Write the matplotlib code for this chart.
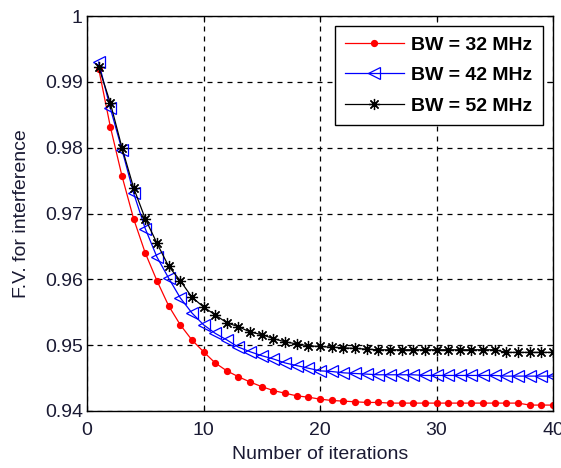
import matplotlib
matplotlib.use('Agg')
import matplotlib.pyplot as plt
import numpy as np

# 數據
iterations = np.arange(1, 41)
fv_32 = [0.9920, 0.9832, 0.9757, 0.9692, 0.9640, 0.9598, 0.9560, 0.9531, 0.9508, 0.9490,
         0.9473, 0.9461, 0.9452, 0.9444, 0.9437, 0.9431, 0.9427, 0.9423, 0.9421, 0.9418,
         0.9416, 0.9415, 0.9414, 0.9413, 0.9413, 0.9412, 0.9412, 0.9412, 0.9412, 0.9412,
         0.9412, 0.9412, 0.9412, 0.9412, 0.9412, 0.9412, 0.9412, 0.9409, 0.9409, 0.9409]
fv_42 = [0.9930, 0.9860, 0.9797, 0.9731, 0.9677, 0.9634, 0.9602, 0.9572, 0.9549, 0.9531,
         0.9518, 0.9508, 0.9497, 0.9490, 0.9484, 0.9479, 0.9473, 0.9469, 0.9465, 0.9461,
         0.9460, 0.9458, 0.9457, 0.9456, 0.9455, 0.9455, 0.9455, 0.9455, 0.9454, 0.9454,
         0.9454, 0.9454, 0.9454, 0.9454, 0.9454, 0.9453, 0.9453, 0.9453, 0.9453, 0.9453]
fv_52 = [0.9923, 0.9868, 0.9800, 0.9739, 0.9692, 0.9655, 0.9620, 0.9598, 0.9573, 0.9558,
         0.9546, 0.9534, 0.9528, 0.9520, 0.9516, 0.9510, 0.9505, 0.9502, 0.9499, 0.9498,
         0.9497, 0.9496, 0.9495, 0.9494, 0.9493, 0.9493, 0.9493, 0.9493, 0.9493, 0.9493,
         0.9493, 0.9493, 0.9493, 0.9493, 0.9493, 0.9489, 0.9489, 0.9489, 0.9489, 0.9489]
labels = ['BW = 32 MHz', 'BW = 42 MHz', 'BW = 52 MHz']

x_ticks = [0, 10, 20, 30, 40]
y_ticks = [0.94, 0.95, 0.96, 0.97, 0.98, 0.99, 1.0]
y_ticklabels = ['0.94', '0.95', '0.96', '0.97', '0.98', '0.99', '1']

plt.rcParams['font.family'] = ['Liberation Sans', 'DejaVu Sans']

fig = plt.figure(figsize=(5.61, 4.68), dpi=100)
ax = fig.add_axes([0.1551, 0.1218, 0.8307, 0.844])

ax.plot(iterations, fv_32, color='red', lw=0.9, marker='o', ms=4.2,
        mec='red', mfc='red', label=labels[0])
ax.plot(iterations, fv_42, color='blue', lw=0.9, marker='<', ms=8,
        mec='blue', mfc='none', mew=0.9, label=labels[1])
ax.plot(iterations, fv_52, color='black', lw=0.9, marker=(8, 2, 0), ms=8,
        mec='black', mew=0.9, label=labels[2])

ax.set_xlim(0, 40)
ax.set_ylim(0.94, 1.0)
ax.set_xticks(x_ticks)
ax.set_yticks(y_ticks)
ax.set_yticklabels(y_ticklabels)
ax.tick_params(direction='in', top=True, right=True, length=4, labelsize=14,
               labelcolor='#1a1a33')
ax.tick_params(axis='y', pad=3)
ax.tick_params(axis='x', pad=8)
ax.grid(True, color='black', linestyle=(0, (4, 4)), linewidth=0.9)
for s in ax.spines.values():
    s.set_linewidth(1.0)

ax.set_xlabel('Number of iterations', fontsize=14, labelpad=5, color='#1a1a33')
ax.set_ylabel('F.V. for interference', fontsize=14, labelpad=11, color='#1a1a33')

leg = ax.legend(loc='upper right', prop={'size': 14, 'weight': 'bold'},
                handlelength=3.0, fancybox=False, framealpha=1,
                edgecolor='black', borderaxespad=0.5, labelspacing=0.65,
                handletextpad=0.4, borderpad=0.55)
leg.get_frame().set_linewidth(1.0)

fig.savefig('out.png', dpi=100)
